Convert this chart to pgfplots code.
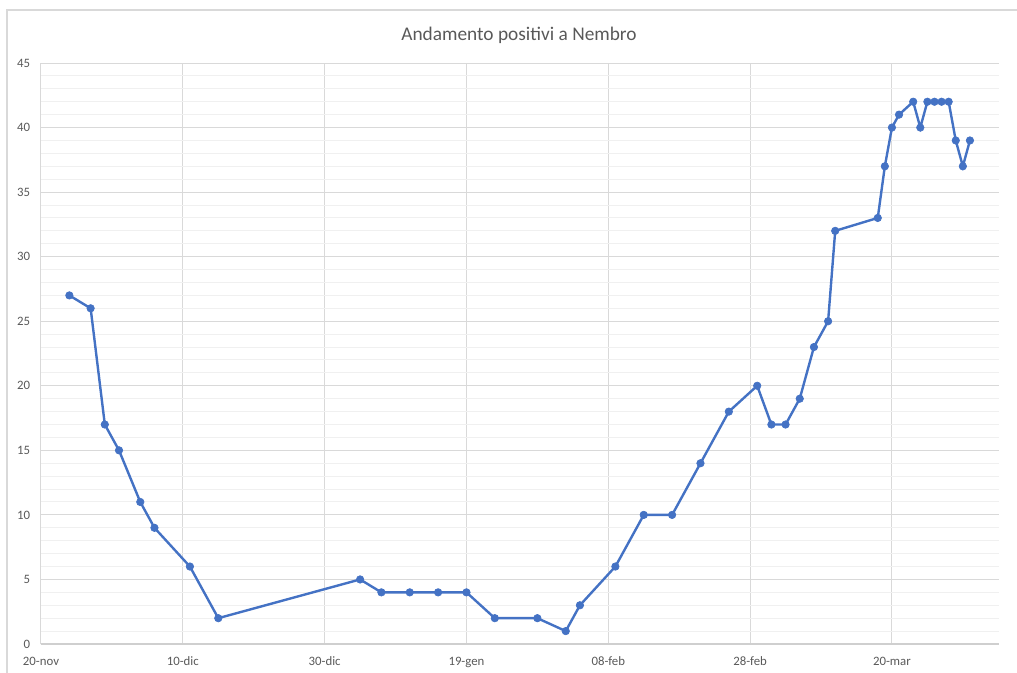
\documentclass[border=0pt]{standalone}
\usepackage{fontspec}
\setmainfont{Carlito}
\usepackage{pgfplots}
\pgfplotsset{compat=1.18}
\definecolor{xlblue}{HTML}{4472C4}
\definecolor{txtgray}{HTML}{595959}
\definecolor{gridmaj}{HTML}{D9D9D9}
\definecolor{gridmin}{HTML}{F0F0F0}
\definecolor{axgray}{HTML}{CFCFCF}
\pgfplotstableread{
d v
4 27
7 26
9 17
11 15
14 11
16 9
21 6
25 2
45 5
48 4
52 4
56 4
60 4
64 2
70 2
74 1
76 3
81 6
85 10
89 10
93 14
97 18
101 20
103 17
105 17
107 19
109 23
111 25
112 32
118 33
119 37
120 40
121 41
123 42
124 40
125 42
126 42
127 42
128 42
129 39
130 37
131 39
}\datatab
\begin{document}
\begin{tikzpicture}[x=0.75pt,y=0.75pt]
\useasboundingbox (0,0) rectangle (1017,672);
\draw[gridmaj, line width=0.8pt] (7,-5) -- (7,662) -- (1025,662);
\node[txtgray, font=\fontsize{14.5}{16}\selectfont] at (519,637) {Andamento positivi a Nembro};
\begin{axis}[
  at={(30.75pt,21pt)}, anchor=south west,
  scale only axis, width=718.5pt, height=435.75pt,
  xmin=0, xmax=135.1, ymin=0, ymax=45,
  xtick={0,20,...,120},
  xticklabels={20-nov,10-dic,30-dic,19-gen,08-feb,28-feb,20-mar},
  ytick={0,5,...,45},
  minor ytick={0,1,...,45},
  grid=both,
  major grid style={gridmaj, line width=0.75pt},
  minor grid style={gridmin, line width=0.75pt},
  axis x line*=bottom, axis y line*=left,
  x axis line style={axgray, line width=1.2pt},
  y axis line style={gridmaj, line width=0.75pt},
  major tick length=0pt, minor tick length=0pt,
  tick style={draw=none},
  /pgf/number format/assume math mode=true,
  ticklabel style={txtgray, font=\fontsize{9.6}{11}\selectfont},
  yticklabel style={anchor=east, inner sep=0pt, xshift=-8pt},
  xticklabel style={anchor=base, inner sep=0pt, yshift=-16.3pt},
  clip=false,
]
\addplot[xlblue, line width=1.8pt, mark=*, mark size=2.8pt, mark options={fill=xlblue, draw=xlblue, line width=0.5pt}] table[x=d, y=v] {\datatab};
\end{axis}
\end{tikzpicture}
\end{document}
